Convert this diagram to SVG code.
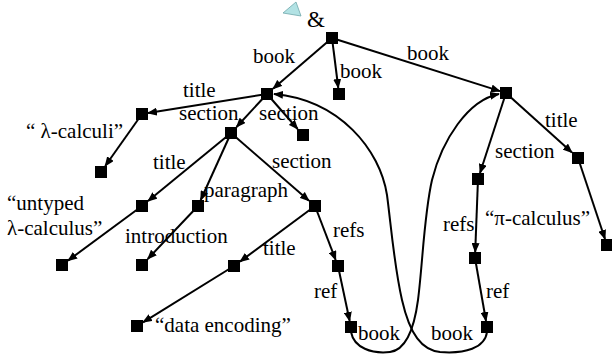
<svg xmlns="http://www.w3.org/2000/svg" width="612" height="360" viewBox="0 0 612 360">
<style>
.n{fill:#000}
.e{stroke:#000;stroke-width:2;fill:none;marker-end:url(#ah)}
</style>
<defs>
<marker id="ah" markerUnits="userSpaceOnUse" markerWidth="10" markerHeight="8" refX="9" refY="4" orient="auto">
<path d="M0,0 L10,4 L0,8 Z" fill="#000"/>
</marker>
</defs>
<rect width="612" height="360" fill="#fff"/>
<g font-family="Liberation Serif" font-size="21" fill="#000">
<g id="root-marker">
<polygon points="283,13 296,2 301,16" fill="#b2e2e4" stroke="#6fa7ab" stroke-width="0.8"/>
<text x="307" y="27" font-family="Liberation Serif" font-size="23">&amp;</text>
</g>
<g id="connectors">
<path class="e" d="M332,38 L273,88.8"/>
<path class="e" d="M332,38 L338.3,88"/>
<path class="e" d="M332,38 L500,91.1"/>
<path class="e" d="M267,94 L148,113"/>
<path class="e" d="M267,94 L236.5,127"/>
<path class="e" d="M267,94 L297.7,129"/>
<path class="e" d="M142,114 L105.2,166"/>
<path class="e" d="M231,133 L148,201.1"/>
<path class="e" d="M231,133 L200.7,200"/>
<path class="e" d="M231,133 L309,200.8"/>
<path class="e" d="M142,206 L68,260.6"/>
<path class="e" d="M198,206 L147.7,259"/>
<path class="e" d="M315,206 L240,261.6"/>
<path class="e" d="M315,206 L335.7,260"/>
<path class="e" d="M234,266 L143,322.3"/>
<path class="e" d="M338,266 L349.7,321"/>
<path class="e" d="M506,93 L480,173"/>
<path class="e" d="M506,93 L572,152.6"/>
<path class="e" d="M578,158 L605,239"/>
<path class="e" d="M478,179 L475.2,252"/>
<path class="e" d="M475,258 L486,321"/>
<path class="e" d="M351,332 C354,348 372,354 390,352 C405,350 414,330 418,300 C423,260 424,215 432,180 C442,140 468,100 499,94"/>
<path class="e" d="M487,332 C485,348 465,354 440,352 C422,350 410,335 402,300 C394,265 391,225 387,195 C380,150 340,100 274,94"/>
</g>
<g id="edge-labels">
<text font-family="Liberation Serif" x="253" y="63">book</text>
<text font-family="Liberation Serif" x="340" y="78">book</text>
<text font-family="Liberation Serif" x="407" y="60">book</text>
<text font-family="Liberation Serif" x="183" y="97">title</text>
<text font-family="Liberation Serif" x="179" y="120">section</text>
<text font-family="Liberation Serif" x="259" y="120">section</text>
<text font-family="Liberation Serif" x="153" y="169">title</text>
<text font-family="Liberation Serif" x="272" y="168">section</text>
<text font-family="Liberation Serif" x="204" y="197">paragraph</text>
<text font-family="Liberation Serif" x="263" y="255">title</text>
<text font-family="Liberation Serif" x="333" y="237">refs</text>
<text font-family="Liberation Serif" x="314" y="298">ref</text>
<text font-family="Liberation Serif" x="358" y="340">book</text>
<text font-family="Liberation Serif" x="431" y="340">book</text>
<text font-family="Liberation Serif" x="545" y="127">title</text>
<text font-family="Liberation Serif" x="495" y="158">section</text>
<text font-family="Liberation Serif" x="443" y="231">refs</text>
<text font-family="Liberation Serif" x="486" y="298">ref</text>
</g>
<g id="n-root"><rect class="n" x="326" y="32" width="12" height="12"/></g>
<g id="n-book1"><rect class="n" x="261" y="88" width="12" height="12"/></g>
<g id="n-book2"><rect class="n" x="333" y="88" width="12" height="12"/></g>
<g id="n-book3"><rect class="n" x="500" y="87" width="12" height="12"/></g>
<g id="n-title1"><rect class="n" x="136" y="108" width="12" height="12"/></g>
<g id="n-lcalculi"><rect class="n" x="95" y="166" width="12" height="12"/><text font-family="Liberation Serif" x="26" y="138">“ λ-calculi”</text></g>
<g id="n-section1"><rect class="n" x="225" y="127" width="12" height="12"/></g>
<g id="n-section2"><rect class="n" x="297" y="129" width="12" height="12"/></g>
<g id="n-title2"><rect class="n" x="136" y="200" width="12" height="12"/></g>
<g id="n-paragraph"><rect class="n" x="192" y="200" width="12" height="12"/></g>
<g id="n-section3"><rect class="n" x="309" y="200" width="12" height="12"/></g>
<g id="n-untyped"><rect class="n" x="56" y="259" width="12" height="12"/><text font-family="Liberation Serif" x="7" y="210">“untyped</text><text font-family="Liberation Serif" x="7" y="235">λ-calculus”</text></g>
<g id="n-introduction"><rect class="n" x="136" y="259" width="12" height="12"/><text font-family="Liberation Serif" x="125" y="243">introduction</text></g>
<g id="n-title3"><rect class="n" x="228" y="260" width="12" height="12"/></g>
<g id="n-refs1"><rect class="n" x="332" y="260" width="12" height="12"/></g>
<g id="n-data"><rect class="n" x="131" y="320" width="12" height="12"/><text font-family="Liberation Serif" x="155" y="332">“data encoding”</text></g>
<g id="n-ref1"><rect class="n" x="345" y="321" width="12" height="12"/></g>
<g id="n-section4"><rect class="n" x="472" y="173" width="12" height="12"/></g>
<g id="n-title4"><rect class="n" x="572" y="152" width="12" height="12"/></g>
<g id="n-pi"><rect class="n" x="601" y="239" width="12" height="12"/><text font-family="Liberation Serif" x="485" y="225">“π-calculus”</text></g>
<g id="n-refs2"><rect class="n" x="469" y="252" width="12" height="12"/></g>
<g id="n-ref2"><rect class="n" x="481" y="321" width="12" height="12"/></g>
</g>
</svg>
